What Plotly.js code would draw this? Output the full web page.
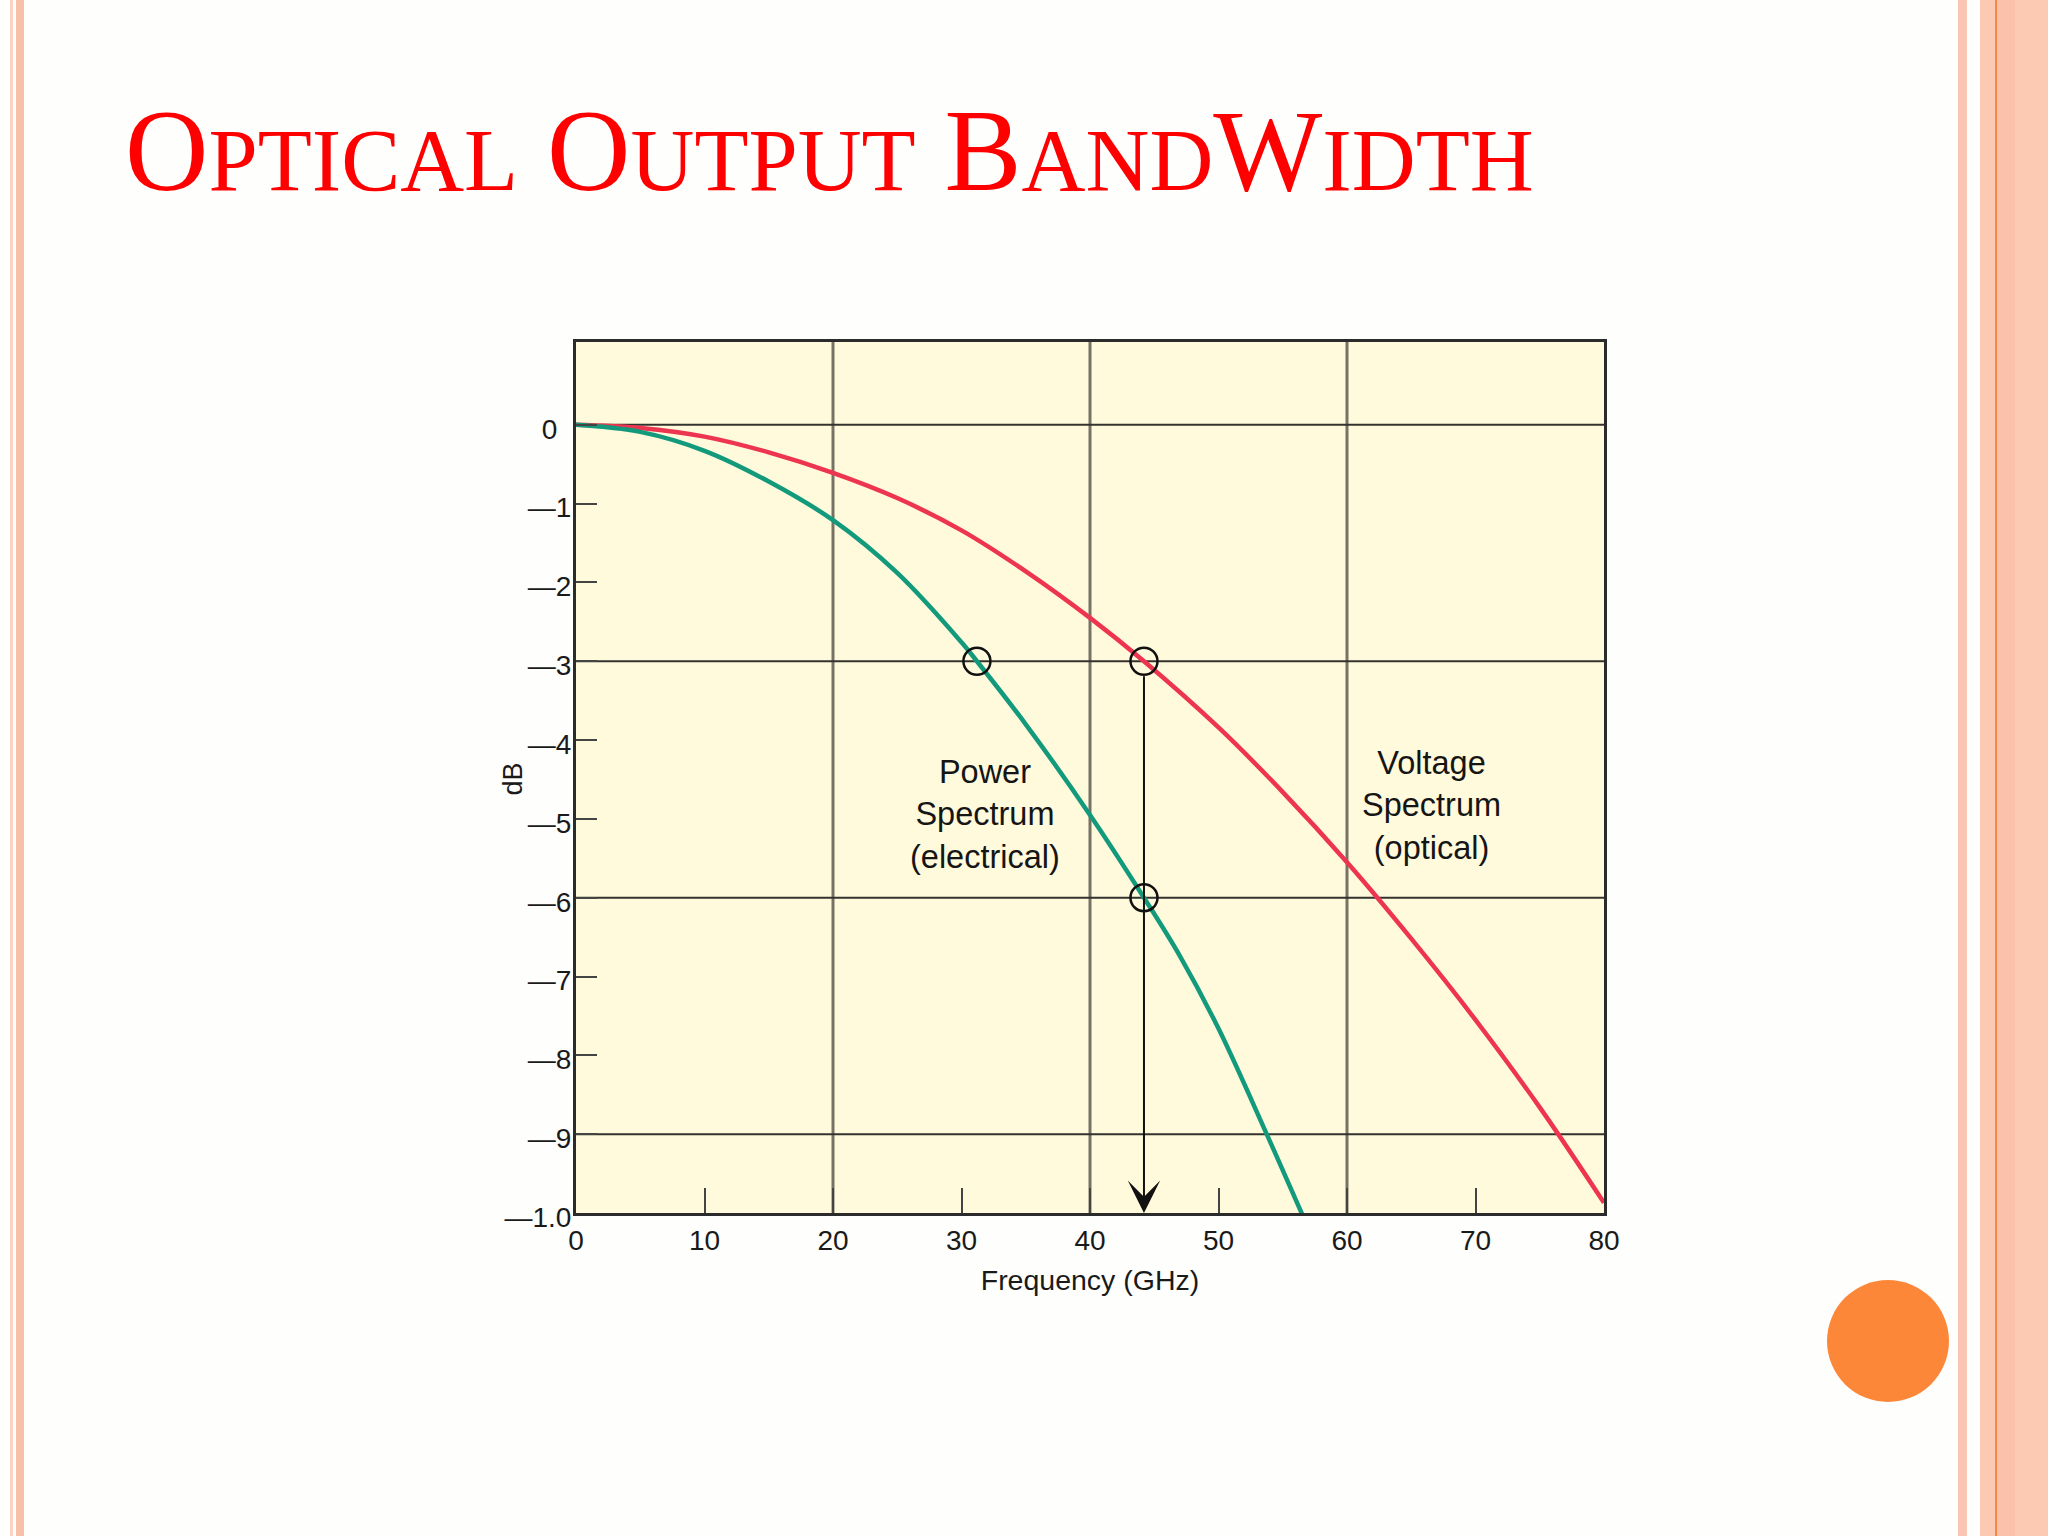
<!DOCTYPE html>
<html>
<head>
<meta charset="utf-8">
<script src="https://cdn.plot.ly/plotly-3.0.1.min.js"></script>
<style>
  html, body { margin: 0; padding: 0; background: #ffffff; overflow: hidden; }
  #wrap { position: relative; width: 2048px; height: 1536px; background: #fefefd; }
  .stripe { position: absolute; top: 0; height: 1536px; }
  #chart { position: absolute; left: 0; top: 0; width: 2048px; height: 1536px; }
  #dot { position: absolute; left: 1827px; top: 1280px; width: 122px; height: 122px; border-radius: 50%; background: #fd8738; }
</style>
</head>
<body>
<div id="wrap">
  <div class="stripe" style="left:10px;width:3px;background:#fbd3c4;"></div>
  <div class="stripe" style="left:16px;width:8px;background:#f7c0a8;"></div>
  <div class="stripe" style="left:1958px;width:9px;background:#fac5b2;"></div>
  <div class="stripe" style="left:1980px;width:68px;background:#fcc9b2;"></div>
  <div class="stripe" style="left:1997px;width:18px;background:#fbc1ab;"></div>
  <div class="stripe" style="left:1995px;width:2px;background:#f08a4c;"></div>
  <div id="dot"></div>
  <div id="chart"></div>
</div>
<script>
// ---- data ----
const voltFreq = [0, 5, 10, 15, 20, 25, 30, 35, 40, 44.2, 50, 55, 60, 65, 70, 75, 80];
const voltDb   = [0, -0.04, -0.15, -0.35, -0.61, -0.93, -1.34, -1.86, -2.45, -3.0, -3.84, -4.66, -5.55, -6.52, -7.55, -8.66, -9.87];

const powFreq = [0, 5, 10, 15, 20, 25, 30, 31.2, 35, 40, 44.2, 47, 50, 53.7, 56.6];
const powDb   = [0, -0.09, -0.33, -0.72, -1.21, -1.88, -2.76, -3.0, -3.80, -4.95, -6.0, -6.74, -7.66, -8.98, -10.05];

const markFreq = [31.2, 44.2, 44.2];
const markDb   = [-3, -3, -6];

const arrowFreq = 44.2;
const arrowFromDb = -3.17;
const arrowToDb = -10;

const xTickVals = [0, 10, 20, 30, 40, 50, 60, 70, 80];
const xTickText = ['0', '10', '20', '30', '40', '50', '60', '70', '80'];
const yTickVals = [0, -1, -2, -3, -4, -5, -6, -7, -8, -9, -10];
const yTickText = ['0\u2002', '—1', '—2', '—3', '—4', '—5', '—6', '—7', '—8', '—9', '—1.0'];

const xGrid = [20, 40, 60];
const yGrid = [0, -3, -6, -9];

const powerLabel = {x: 31.8, y: -4.95, text: 'Power<br>Spectrum<br>(electrical)'};
const voltLabel  = {x: 66.6, y: -4.83, text: 'Voltage<br>Spectrum<br>(optical)'};
const yTitle = {y: -4.5, text: 'dB'};

const titleHtml = 'O<span style="font-size:88.5px">PTICAL</span> O<span style="font-size:88.5px">UTPUT</span> B<span style="font-size:88.5px">AND</span>W<span style="font-size:88.5px">IDTH</span>';

// ---- traces ----
const traces = [
  {x: voltFreq, y: voltDb, type: 'scatter', mode: 'lines', line: {color: '#ee3550', width: 4.5, shape: 'spline', smoothing: 1}, hoverinfo: 'skip'},
  {x: powFreq, y: powDb, type: 'scatter', mode: 'lines', line: {color: '#139a7c', width: 4.5, shape: 'spline', smoothing: 1}, hoverinfo: 'skip'},
  {x: markFreq, y: markDb, type: 'scatter', mode: 'markers', marker: {symbol: 'circle-open', size: 27, color: '#111', line: {width: 2.5, color: '#111'}}, hoverinfo: 'skip'}
];

const shapes = [];
xGrid.forEach(v => shapes.push({type: 'line', xref: 'x', yref: 'paper', x0: v, x1: v, y0: 0, y1: 1, layer: 'below', line: {color: '#777266', width: 3}}));
yGrid.forEach(v => shapes.push({type: 'line', xref: 'paper', yref: 'y', x0: 0, x1: 1, y0: v, y1: v, layer: 'below', line: {color: '#34322e', width: 2}}));

const sans = 'Liberation Sans, Arial, sans-serif';
const textFont = {family: sans, size: 32.5, color: '#151515'};

const layout = {
  width: 2048, height: 1536, autosize: false,
  paper_bgcolor: 'rgba(0,0,0,0)',
  plot_bgcolor: '#fffadb',
  showlegend: false,
  margin: {l: 576, r: 444, t: 342, b: 323, pad: 0},
  title: {
    text: titleHtml,
    font: {family: 'Liberation Serif, Times New Roman, serif', size: 115.5, color: '#ff0000'},
    xref: 'container', yref: 'container',
    x: 125 / 2048, xanchor: 'left',
    y: 1 - 150 / 1536, yanchor: 'middle'
  },
  xaxis: {
    range: [0, 80], fixedrange: true,
    tickmode: 'array', tickvals: xTickVals, ticktext: xTickText,
    ticks: 'inside', ticklen: 25, tickwidth: 2, tickcolor: '#444',
    showgrid: false, zeroline: false,
    showline: true, mirror: true, linecolor: '#2b2b2b', linewidth: 3,
    tickfont: {family: sans, size: 28, color: '#1a1a1a'},
    ticklabelstandoff: 0,
    title: {text: 'Frequency (GHz)', font: {family: sans, size: 28.5, color: '#1a1a1a'}, standoff: 16}
  },
  yaxis: {
    range: [-10, 1.05], fixedrange: true,
    tickmode: 'array', tickvals: yTickVals, ticktext: yTickText,
    ticks: 'inside', ticklen: 21, tickwidth: 2, tickcolor: '#444',
    showgrid: false, zeroline: false,
    showline: true, mirror: true, linecolor: '#2b2b2b', linewidth: 3,
    tickfont: {family: sans, size: 28, color: '#1a1a1a'},
    ticklabelstandoff: -4,
    ticklabelshift: 4,
    title: {text: ''}
  },
  shapes: shapes,
  annotations: [
    {x: -63 / 1028, y: yTitle.y, xref: 'paper', yref: 'y', text: yTitle.text, textangle: -90, showarrow: false, font: {family: sans, size: 27, color: '#1a1a1a'}, xanchor: 'center', yanchor: 'middle'},
    {x: powerLabel.x, y: powerLabel.y, xref: 'x', yref: 'y', text: powerLabel.text, showarrow: false, font: textFont, align: 'center', xanchor: 'center', yanchor: 'middle'},
    {x: voltLabel.x, y: voltLabel.y, xref: 'x', yref: 'y', text: voltLabel.text, showarrow: false, font: textFont, align: 'center', xanchor: 'center', yanchor: 'middle'},
    {x: arrowFreq, y: arrowToDb, ax: arrowFreq, ay: arrowFromDb, xref: 'x', yref: 'y', axref: 'x', ayref: 'y',
     text: '', showarrow: true, arrowhead: 3, arrowsize: 2.7, arrowwidth: 2, arrowcolor: '#111', standoff: 0}
  ]
};

Plotly.newPlot('chart', traces, layout, {staticPlot: true, displayModeBar: false});
</script>
</body>
</html>
